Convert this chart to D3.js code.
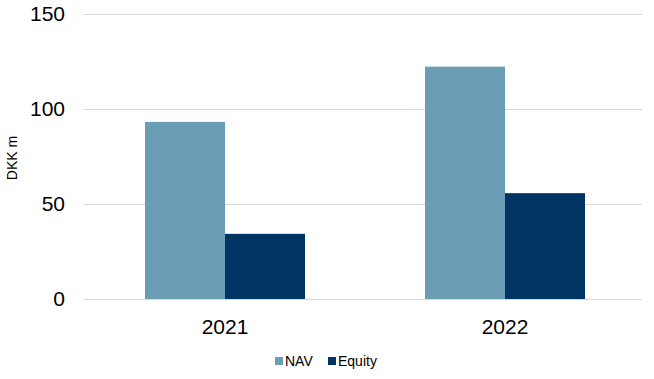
<!DOCTYPE html>
<html><head><meta charset="utf-8">
<script src="https://cdn.jsdelivr.net/npm/d3@7"></script>
<style>body{margin:0;background:#fff}svg{display:block}</style>
</head><body><svg id="c" width="654" height="379"></svg>
<script>
const categories = ["2021", "2022"];
const seriesNames = ["NAV", "Equity"];
const navValues = [93.2, 122.3];
const equityValues = [34.3, 55.7];
const yTicks = [0, 50, 100, 150];
const colors = ["#6b9db5", "#003462"];

const svg = d3.select("#c");
const font = "Liberation Sans, Arial, sans-serif";
const x0 = d3.scaleBand().domain(categories).range([85, 645]).paddingInner(0.4286).paddingOuter(0.2143);
const x1 = d3.scaleBand().domain(seriesNames).range([0, x0.bandwidth()]);
const y = d3.scaleLinear().domain([0, 150]).range([299, 14]);

const grid = svg.append("g").attr("transform", "translate(84,0)")
  .call(d3.axisLeft(y).tickValues(yTicks).tickSize(-558).tickFormat(d3.format("d")).tickPadding(19));
grid.select(".domain").remove();
grid.selectAll(".tick line").attr("stroke", "#d9d9d9").attr("stroke-width", 1);
grid.selectAll(".tick text").attr("font-family", font).attr("font-size", 21).attr("fill", "#000");

const data = categories.map((c, i) => ({cat: c, vals: [navValues[i], equityValues[i]]}));
const groups = svg.append("g").selectAll("g").data(data).join("g")
  .attr("transform", d => `translate(${x0(d.cat)},0)`);
groups.selectAll("rect").data(d => d.vals.map((v, j) => ({s: seriesNames[j], v, j}))).join("rect")
  .attr("x", d => x1(d.s)).attr("width", x1.bandwidth())
  .attr("y", d => y(d.v)).attr("height", d => y(0) - y(d.v))
  .attr("fill", d => colors[d.j]);

const xa = svg.append("g").attr("transform", "translate(0,299)")
  .call(d3.axisBottom(x0).tickSize(0).tickPadding(20));
xa.select(".domain").remove();
xa.selectAll(".tick text").attr("font-family", font).attr("font-size", 21).attr("fill", "#000");

svg.append("text").attr("transform", "translate(17,158) rotate(-90)")
  .attr("text-anchor", "middle").attr("font-family", font).attr("font-size", 14).attr("fill", "#000").text("DKK m");

const legX = [275, 328];
const leg = svg.append("g");
seriesNames.forEach((s, i) => {
  leg.append("rect").attr("x", legX[i]).attr("y", 357).attr("width", 8).attr("height", 8).attr("fill", colors[i]);
  leg.append("text").attr("x", legX[i] + 10).attr("y", 366).attr("font-family", font).attr("font-size", 14).attr("fill", "#000").text(s);
});
</script></body></html>
